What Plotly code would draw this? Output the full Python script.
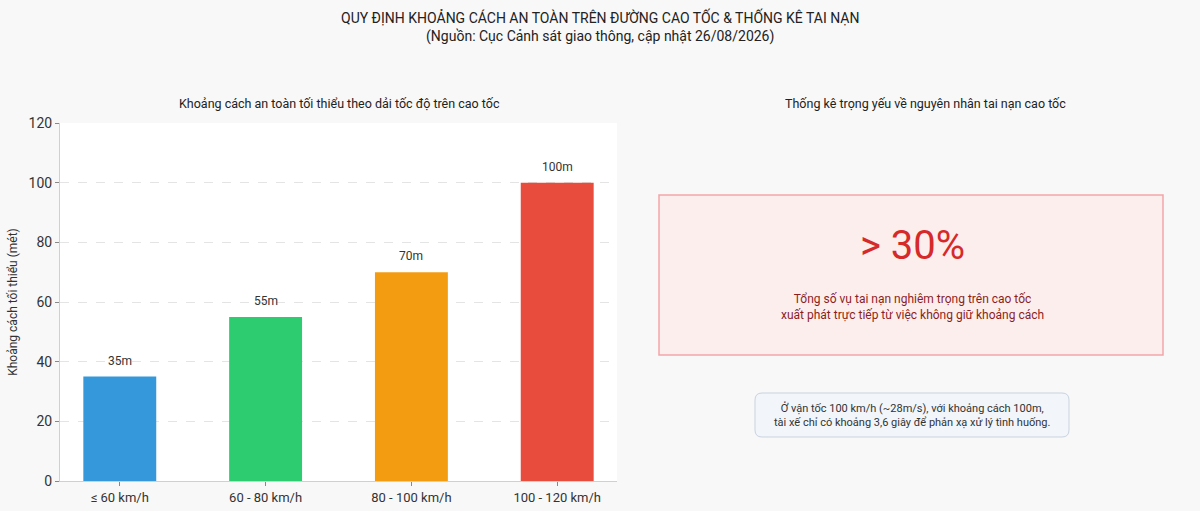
import plotly.graph_objects as go

# data
speed_bands = ["≤ 60 km/h", "60 - 80 km/h", "80 - 100 km/h", "100 - 120 km/h"]
min_distance = [35, 55, 70, 100]
bar_colors = ["#3498db", "#2ecc71", "#f39c12", "#e74c3c"]
bar_labels = ["35m", "55m", "70m", "100m"]

stat_value = "> 30%"
stat_text = "Tổng số vụ tai nạn nghiêm trọng trên cao tốc<br>xuất phát trực tiếp từ việc không giữ khoảng cách"
note_text = "Ở vận tốc 100 km/h (~28m/s), với khoảng cách 100m,<br>tài xế chỉ có khoảng 3,6 giây để phản xạ xử lý tình huống."

FONT = "Roboto, Open Sans, sans-serif"
W, H = 1200, 511
ML, MR, MT, MB = 60, 20, 123, 30


# pixel positions (from the top-left of the figure) -> paper coordinates
def px(xpx):
    return (xpx - ML) / (W - ML - MR)


def py(ypx):
    return (H - MB - ypx) / (H - MT - MB)


def rounded_rect(x0, y0, x1, y1, r):
    # svg path in paper coords, rounded corners given in pixels
    rx = r / (W - ML - MR)
    ry = r / (H - MT - MB)
    X0, X1, Y0, Y1 = px(x0), px(x1), py(y1), py(y0)
    return (f"M {X0+rx},{Y0} L {X1-rx},{Y0} Q {X1},{Y0} {X1},{Y0+ry} "
            f"L {X1},{Y1-ry} Q {X1},{Y1} {X1-rx},{Y1} "
            f"L {X0+rx},{Y1} Q {X0},{Y1} {X0},{Y1-ry} "
            f"L {X0},{Y0+ry} Q {X0},{Y0} {X0+rx},{Y0} Z")


fig = go.Figure()
fig.add_trace(go.Bar(
    x=speed_bands, y=min_distance,
    marker=dict(color=bar_colors, line=dict(width=0)),
    width=0.5,
    showlegend=False,
))

fig.update_layout(
    width=W, height=H,
    paper_bgcolor="#f8f8f8", plot_bgcolor="#ffffff",
    font=dict(family=FONT, color="#333333"),
    margin=dict(l=ML, r=MR, t=MT, b=MB),
    xaxis=dict(
        domain=[0, px(617)], range=[-0.41, 3.41], automargin=False,
        showline=True, linecolor="#d0d0d0", linewidth=1,
        ticks="outside", ticklen=4, tickcolor="#888888",
        tickfont=dict(size=13, color="#333333"),
        showgrid=False,
    ),
    yaxis=dict(
        range=[0, 120], dtick=20, automargin=False,
        showline=True, linecolor="#d0d0d0", linewidth=1,
        ticks="outside", ticklen=4, tickcolor="#888888",
        tickfont=dict(size=14, color="#333333"),
        gridcolor="#e4e4e4", griddash="dash", zeroline=False,
        title=dict(text="Khoảng cách tối thiểu (mét)", font=dict(size=12, color="#333333"), standoff=8),
    ),
)

cx = px(912)
common = dict(xref="paper", yref="paper", xanchor="center", yanchor="middle", showarrow=False)
anns = [
    dict(text="QUY ĐỊNH KHOẢNG CÁCH AN TOÀN TRÊN ĐƯỜNG CAO TỐC & THỐNG KÊ TAI NẠN<br>(Nguồn: Cục Cảnh sát giao thông, cập nhật 26/08/2026)",
         x=px(600), y=py(26), font=dict(size=14, color="#222222"), **common),
    dict(text="Khoảng cách an toàn tối thiểu theo dải tốc độ trên cao tốc",
         x=px(339), y=py(104), font=dict(size=12.5, color="#222222"), **common),
    dict(text="Thống kê trọng yếu về nguyên nhân tai nạn cao tốc",
         x=px(925), y=py(104), font=dict(size=12.5, color="#222222"), **common),
    dict(text=stat_value, x=cx, y=py(245), font=dict(size=40, color="#d62a2a"), **common),
    dict(text=stat_text, x=cx, y=py(307), font=dict(size=12, color="#8b1e1e"), **common),
    dict(text=note_text, x=cx, y=py(415), font=dict(size=11, color="#333333"), **common),
]
# value labels above the bars
for band, val, lab in zip(speed_bands, min_distance, bar_labels):
    anns.append(dict(text=lab, x=band, y=val, xref="x", yref="y", yanchor="bottom",
                     yshift=7, showarrow=False, font=dict(size=12, color="#333333")))
fig.update_layout(annotations=anns)

fig.add_shape(type="rect", xref="paper", yref="paper",
              x0=px(659), x1=px(1163), y0=py(355), y1=py(195),
              fillcolor="#fdeeee", line=dict(color="#f2a5a8", width=1.5), layer="below")
fig.add_shape(type="path", xref="paper", yref="paper",
              path=rounded_rect(755, 393, 1069, 437, 7),
              fillcolor="#f2f5f9", line=dict(color="#c9d3df", width=1), layer="below")

fig.write_html("out.html", config={"displayModeBar": False},
               post_script="document.body.style.margin='0';")
